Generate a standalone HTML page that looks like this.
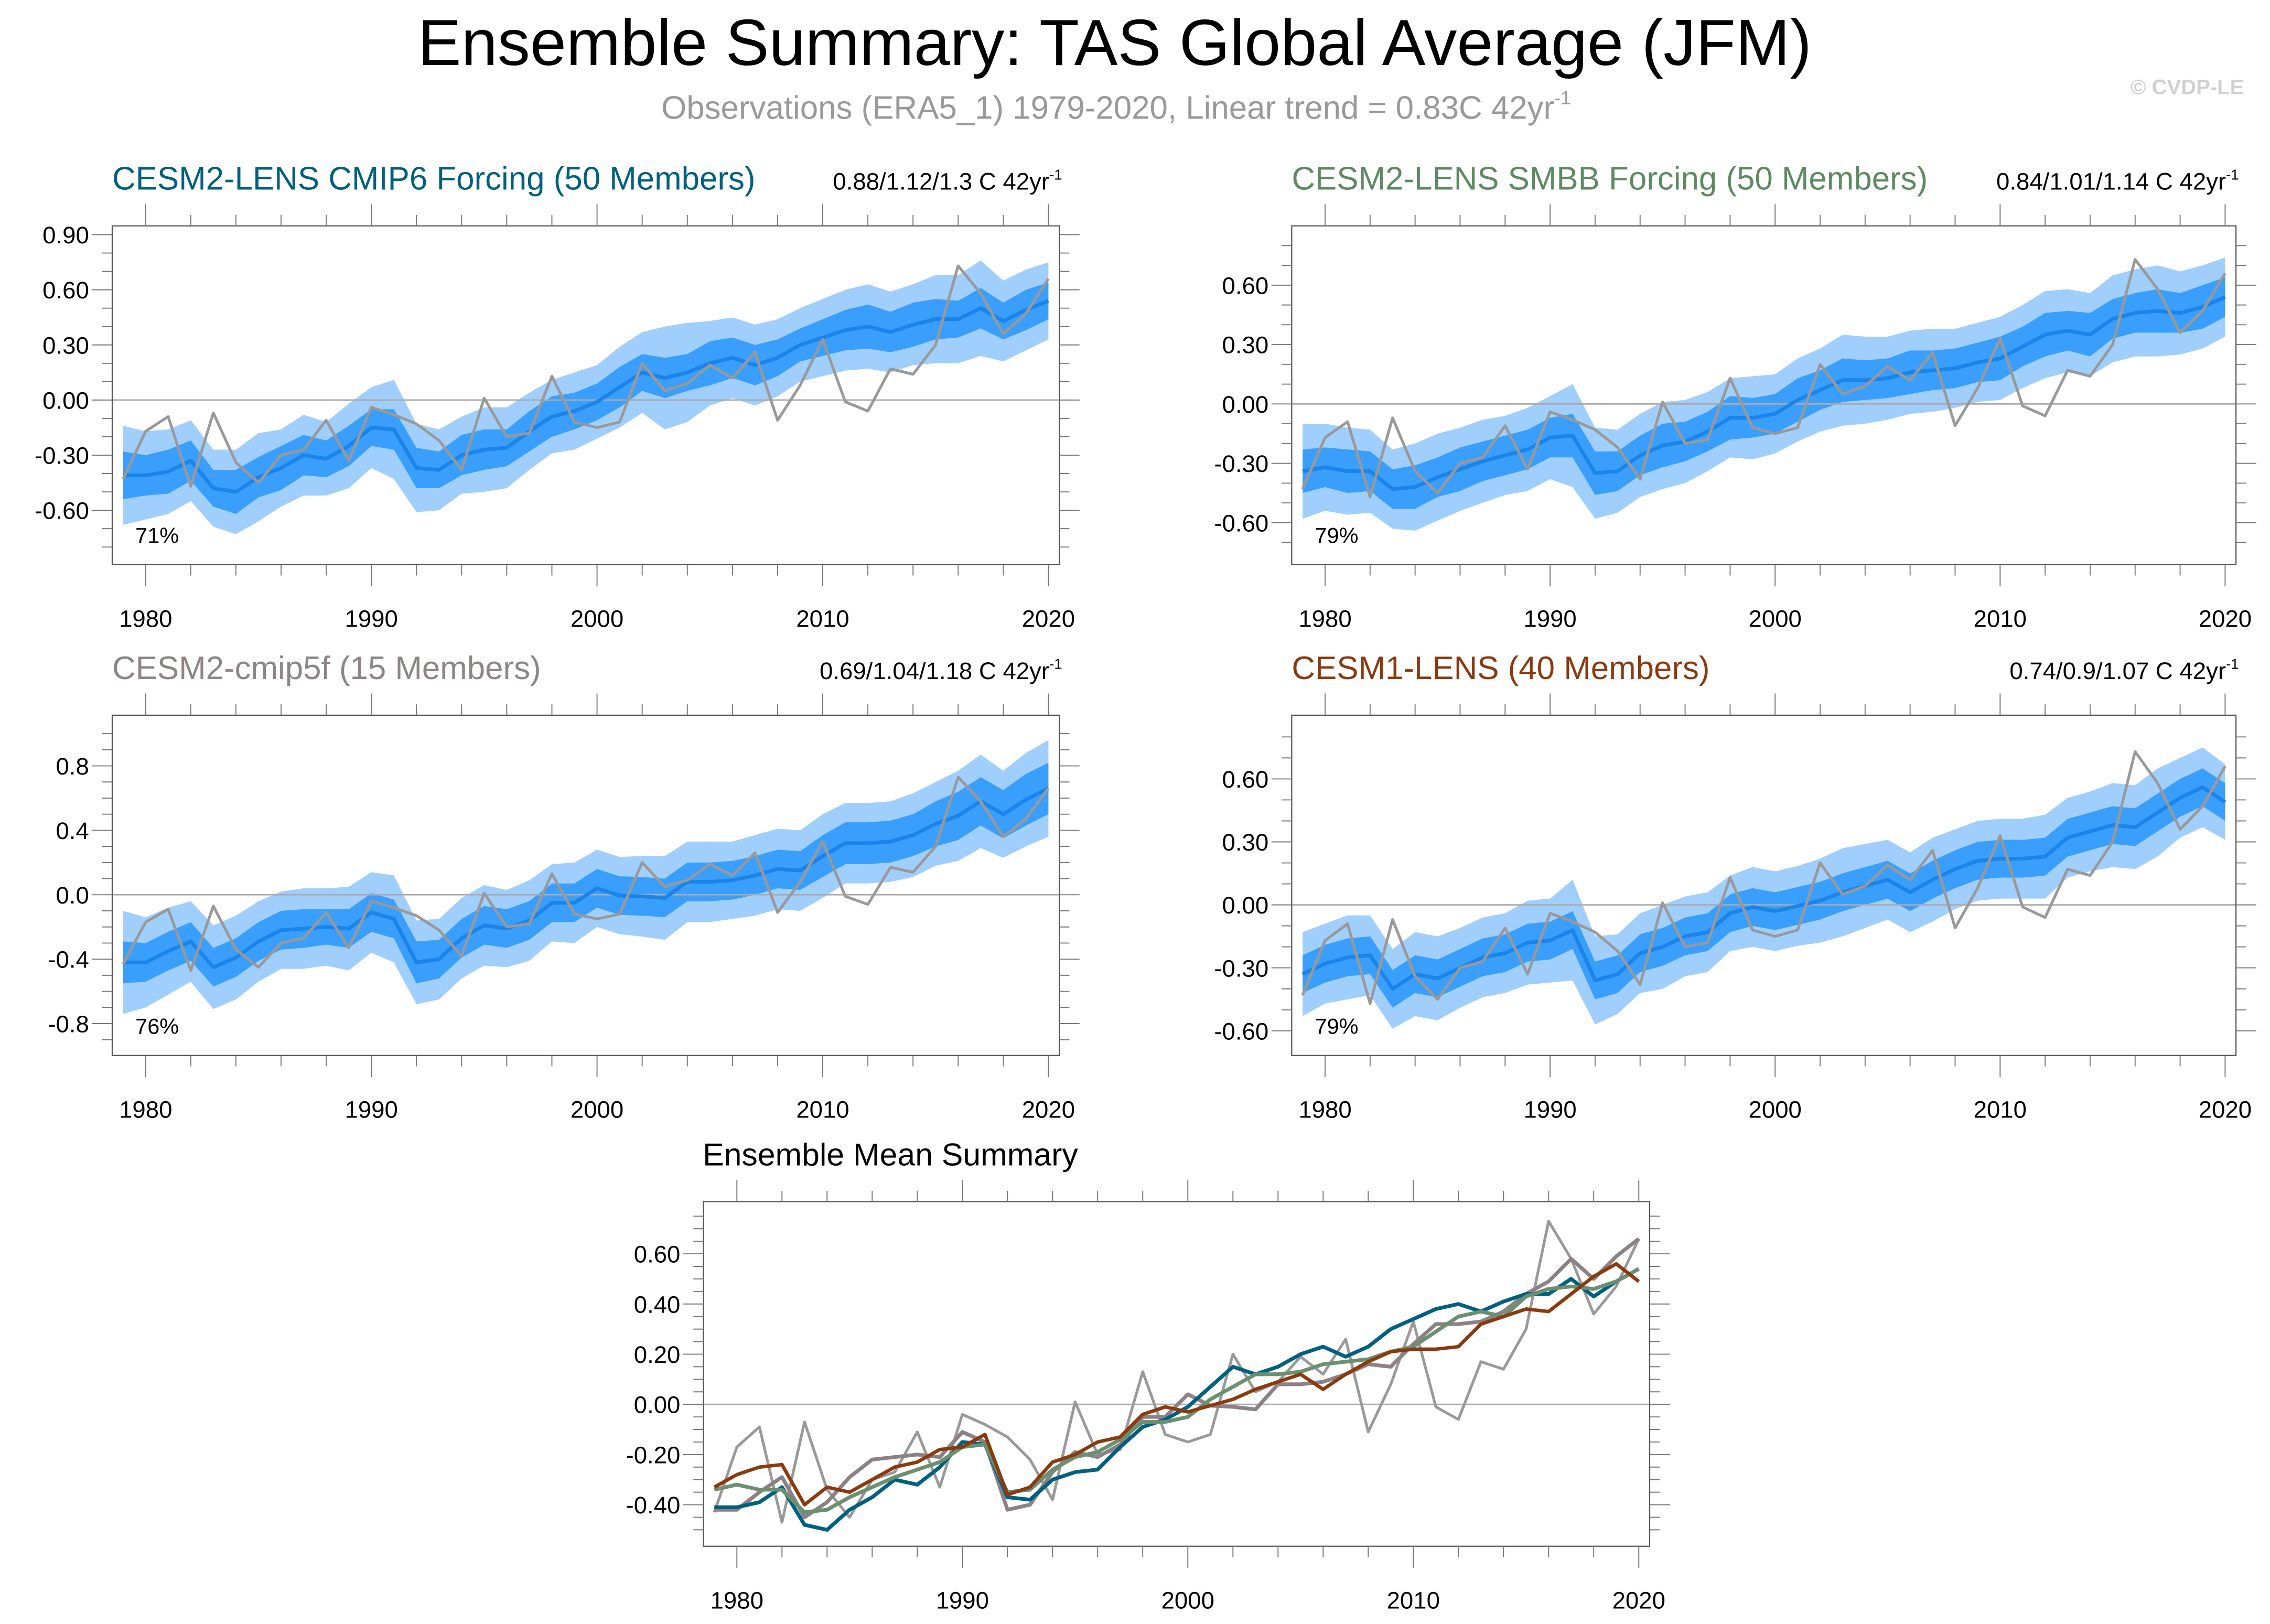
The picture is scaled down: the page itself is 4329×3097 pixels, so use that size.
<!DOCTYPE html>
<html><head><meta charset="utf-8">
<style>
html,body{margin:0;padding:0;background:#fff;}
svg{display:block;font-family:"Liberation Sans",sans-serif;}
</style></head>
<body>
<svg id="fig" width="4329" height="3097" viewBox="0 0 1568 1121.7" preserveAspectRatio="none" xmlns="http://www.w3.org/2000/svg">
<text x="770" y="45" font-size="45" text-anchor="middle" fill="#000">Ensemble Summary: TAS Global Average (JFM)</text>
<text x="771" y="82" font-size="22.4" text-anchor="middle" fill="#999">Observations (ERA5_1) 1979-2020, Linear trend = 0.83C 42yr<tspan font-size="13" dy="-10">-1</tspan></text>
<text x="1550" y="65" font-size="14.5" font-weight="bold" text-anchor="end" fill="#d0d0d0">© CVDP-LE</text>
<g id="plots"></g>
</svg>
<script>
const years = [];
for (let y = 1979; y <= 2020; y++) years.push(y);
const obs = [-0.43,-0.17,-0.09,-0.47,-0.07,-0.34,-0.45,-0.30,-0.27,-0.11,-0.33,-0.04,-0.08,-0.13,-0.22,-0.38,0.01,-0.20,-0.18,0.13,-0.12,-0.15,-0.12,0.20,0.05,0.09,0.19,0.12,0.26,-0.11,0.08,0.33,-0.01,-0.06,0.17,0.14,0.30,0.73,0.58,0.36,0.47,0.66];
const meanCmip6 = [-0.41,-0.41,-0.39,-0.33,-0.48,-0.50,-0.42,-0.37,-0.30,-0.32,-0.25,-0.15,-0.16,-0.37,-0.38,-0.30,-0.27,-0.26,-0.17,-0.09,-0.06,-0.01,0.07,0.15,0.12,0.15,0.20,0.23,0.19,0.23,0.30,0.34,0.38,0.40,0.37,0.41,0.44,0.44,0.50,0.43,0.49,0.54];
const meanSmbb = [-0.34,-0.32,-0.34,-0.34,-0.43,-0.42,-0.37,-0.33,-0.29,-0.26,-0.23,-0.17,-0.16,-0.35,-0.34,-0.26,-0.21,-0.19,-0.14,-0.07,-0.07,-0.05,0.02,0.07,0.12,0.12,0.13,0.16,0.17,0.18,0.21,0.23,0.29,0.35,0.37,0.35,0.43,0.46,0.47,0.46,0.49,0.54];
const meanCmip5f = [-0.42,-0.42,-0.35,-0.29,-0.45,-0.39,-0.29,-0.22,-0.21,-0.20,-0.21,-0.11,-0.15,-0.42,-0.40,-0.27,-0.19,-0.21,-0.16,-0.05,-0.05,0.04,-0.005,-0.01,-0.02,0.08,0.08,0.09,0.12,0.16,0.15,0.24,0.32,0.32,0.33,0.37,0.44,0.49,0.58,0.50,0.59,0.66];
const meanCesm1 = [-0.33,-0.28,-0.25,-0.24,-0.40,-0.33,-0.35,-0.30,-0.25,-0.23,-0.18,-0.17,-0.12,-0.36,-0.33,-0.23,-0.20,-0.15,-0.13,-0.04,-0.01,-0.03,-0.005,0.02,0.06,0.09,0.12,0.06,0.12,0.17,0.21,0.22,0.22,0.23,0.32,0.35,0.38,0.37,0.44,0.51,0.56,0.49];
const darkCmip6 = [0.13,0.11,0.12,0.11,0.10,0.12,0.11,0.12,0.11,0.10,0.11,0.10,0.11,0.11,0.10,0.11,0.11,0.10,0.11,0.11,0.10,0.10,0.11,0.10,0.11,0.10,0.12,0.11,0.11,0.10,0.09,0.10,0.11,0.12,0.11,0.12,0.11,0.10,0.11,0.10,0.11,0.10];
const lightCmip6 = [0.27,0.24,0.23,0.22,0.21,0.23,0.24,0.21,0.22,0.20,0.23,0.22,0.27,0.24,0.22,0.21,0.23,0.22,0.21,0.20,0.21,0.20,0.22,0.22,0.28,0.27,0.23,0.22,0.22,0.21,0.20,0.21,0.22,0.23,0.22,0.22,0.24,0.24,0.26,0.22,0.22,0.21];
const darkSmbb = [0.11,0.10,0.11,0.10,0.10,0.11,0.10,0.11,0.10,0.10,0.10,0.10,0.11,0.11,0.10,0.10,0.11,0.10,0.10,0.11,0.10,0.10,0.11,0.10,0.11,0.10,0.10,0.11,0.10,0.10,0.10,0.11,0.10,0.11,0.10,0.11,0.10,0.10,0.11,0.10,0.11,0.10];
const lightSmbb = [0.24,0.22,0.22,0.21,0.20,0.22,0.22,0.21,0.21,0.20,0.21,0.21,0.26,0.23,0.21,0.21,0.22,0.21,0.20,0.20,0.21,0.20,0.21,0.21,0.23,0.22,0.21,0.21,0.21,0.20,0.20,0.21,0.21,0.22,0.21,0.21,0.22,0.22,0.23,0.21,0.21,0.20];
const darkCmip5f = [0.13,0.12,0.12,0.12,0.12,0.12,0.12,0.12,0.12,0.11,0.12,0.12,0.12,0.13,0.12,0.12,0.12,0.12,0.12,0.12,0.12,0.12,0.12,0.12,0.12,0.12,0.12,0.12,0.12,0.12,0.12,0.13,0.13,0.13,0.13,0.13,0.14,0.15,0.15,0.15,0.16,0.16];
const lightCmip5f = [0.32,0.28,0.27,0.25,0.26,0.26,0.25,0.24,0.25,0.24,0.26,0.25,0.27,0.26,0.25,0.25,0.25,0.24,0.25,0.24,0.25,0.24,0.24,0.25,0.26,0.25,0.25,0.24,0.25,0.25,0.25,0.26,0.25,0.25,0.25,0.26,0.26,0.28,0.29,0.27,0.29,0.30];
const darkCesm1 = [0.09,0.09,0.09,0.09,0.09,0.09,0.09,0.09,0.09,0.09,0.09,0.09,0.09,0.09,0.09,0.09,0.09,0.09,0.09,0.09,0.09,0.09,0.09,0.09,0.09,0.09,0.09,0.09,0.09,0.09,0.09,0.09,0.09,0.09,0.09,0.09,0.09,0.09,0.09,0.09,0.09,0.09];
const lightCesm1 = [0.20,0.19,0.20,0.19,0.19,0.20,0.20,0.19,0.19,0.19,0.20,0.20,0.24,0.21,0.19,0.19,0.20,0.19,0.19,0.18,0.19,0.19,0.19,0.20,0.21,0.20,0.19,0.19,0.20,0.19,0.19,0.19,0.19,0.20,0.19,0.19,0.20,0.20,0.21,0.19,0.19,0.18];
const statsLabels = ["0.88/1.12/1.3 C 42yr", "0.84/1.01/1.14 C 42yr", "0.69/1.04/1.18 C 42yr", "0.74/0.9/1.07 C 42yr"];
const pctLabels = ["71%", "79%", "76%", "79%"];
const yearTicks = [1980, 1990, 2000, 2010, 2020];

const NS = "http://www.w3.org/2000/svg";
const root = document.getElementById("plots");
function mk(tag, attrs, parent) {
  const e = document.createElementNS(NS, tag);
  for (const k in attrs) e.setAttribute(k, attrs[k]);
  (parent || root).appendChild(e);
  return e;
}

function panel(cfg) {
  const g = mk("g", {});
  
  
  const xs = (yr) => cfg.x1980 + (yr - 1980) * (cfg.x2020 - cfg.x1980) / 40;
  const ys = (v) => cfg.y0 - v * cfg.pxPerUnit;
  const L = xs(1979) - 7.5, R = xs(2020) + 7.5, T = cfg.top, B = cfg.bottom;
  if (cfg.mean) {
    const bands = [[cfg.light, "#a0cffd", "light-spread-band"], [cfg.dark, "#3a9ffc", "dark-spread-band"]];
    for (const [sp, col, nm] of bands) {
      let pts = years.map((y, i) => xs(y) + "," + ys(cfg.mean[i] + sp[i]));
      pts = pts.concat(years.map((y, i) => xs(y) + "," + ys(cfg.mean[i] - sp[i])).reverse());
      const p = mk("polygon", {points: pts.join(" "), fill: col}, g);
      
      
    }
  }
  const zl = mk("line", {x1: L, x2: R, y1: ys(0), y2: ys(0), stroke: "#aaa", "stroke-width": 1}, g);
  
  
  for (const s of cfg.lines) {
    const pl = mk("polyline", {points: years.map((y, i) => xs(y) + "," + ys(s.data[i])).join(" "), fill: "none", stroke: s.color, "stroke-width": s.w, "stroke-linejoin": "round"}, g);
    
    
  }
  const box = mk("rect", {x: L, y: T, width: R - L, height: B - T, fill: "none", stroke: "#555", "stroke-width": 0.8}, g);
  
  
  for (let yr = 1980; yr <= 2020; yr += 2) {
    const major = yr % 10 === 0;
    const len = major ? 15 : 7.5;
    mk("line", {x1: xs(yr), x2: xs(yr), y1: T, y2: T - len, stroke: "#777", "stroke-width": 0.7}, g);
    mk("line", {x1: xs(yr), x2: xs(yr), y1: B, y2: B + len, stroke: "#777", "stroke-width": 0.7}, g);
  }
  for (const yr of yearTicks) {
    const t = mk("text", {x: xs(yr), y: cfg.bottom + 43, "font-size": 16.5, "text-anchor": "middle", fill: "#000"}, g);
    t.textContent = yr;
    
    
  }
  const vmin = (cfg.y0 - B + 3) / cfg.pxPerUnit, vmax = (cfg.y0 - T - 3) / cfg.pxPerUnit;
  const n0 = Math.ceil(vmin / cfg.minor - 1e-6), n1 = Math.floor(vmax / cfg.minor + 1e-6);
  for (let n = n0; n <= n1; n++) {
    const v = n * cfg.minor;
    const major = Math.abs(Math.round(v / cfg.major) * cfg.major - v) < 1e-6;
    const len = major ? 14 : 7;
    mk("line", {x1: L, x2: L - len, y1: ys(v), y2: ys(v), stroke: "#777", "stroke-width": 0.7}, g);
    mk("line", {x1: R, x2: R + len, y1: ys(v), y2: ys(v), stroke: "#777", "stroke-width": 0.7}, g);
    if (major) {
      const t = mk("text", {x: L - 16, y: ys(v) + 6, "font-size": 16.5, "text-anchor": "end", fill: "#000"}, g);
      t.textContent = Math.abs(v) < 1e-9 ? (0).toFixed(cfg.dec) : v.toFixed(cfg.dec);
      
      
    }
  }
  const tt = mk("text", {x: cfg.titleX !== undefined ? cfg.titleX : L, y: T - 25, "font-size": cfg.titleSize || 22.4, fill: cfg.titleColor, "text-anchor": cfg.titleAnchor || "start"}, g);
  tt.textContent = cfg.title;
  
  
  if (cfg.stats) {
    const st = mk("text", {x: R + 2, y: T - 25, "font-size": 16.5, fill: "#000", "text-anchor": "end"}, g);
    st.textContent = cfg.stats;
    const sup = mk("tspan", {"font-size": 10, dy: -7}, st);
    sup.textContent = "-1";
    
    
  }
  if (cfg.pct) {
    const pt = mk("text", {x: L + 16, y: B - 15, "font-size": 15, fill: "#000"}, g);
    pt.textContent = cfg.pct;
    
    
  }
}

const blueLine = "#1b84ea";
panel({name: "panel-cesm2-cmip6", x1980: 100.6, x2020: 724.2, y0: 276.3, pxPerUnit: 126.9, top: 156, bottom: 390, minor: 0.1, major: 0.3, dec: 2,
  mean: meanCmip6, dark: darkCmip6, light: lightCmip6, title: "CESM2-LENS CMIP6 Forcing (50 Members)", titleColor: "#00607f", stats: statsLabels[0], pct: pctLabels[0],
  lines: [{data: meanCmip6, color: blueLine, w: 2.6, name: "ensemble-mean-line"}, {data: obs, color: "#999", w: 1.9, name: "observations-line"}]});
panel({name: "panel-cesm2-smbb", x1980: 915.3, x2020: 1537, y0: 279, pxPerUnit: 136.7, top: 156, bottom: 390, minor: 0.1, major: 0.3, dec: 2,
  mean: meanSmbb, dark: darkSmbb, light: lightSmbb, title: "CESM2-LENS SMBB Forcing (50 Members)", titleColor: "#5e8a62", stats: statsLabels[1], pct: pctLabels[1],
  lines: [{data: meanSmbb, color: blueLine, w: 2.6, name: "ensemble-mean-line"}, {data: obs, color: "#999", w: 1.9, name: "observations-line"}]});
panel({name: "panel-cesm2-cmip5f", x1980: 100.6, x2020: 724.2, y0: 618, pxPerUnit: 111.25, top: 494, bottom: 729, minor: 0.1, major: 0.4, dec: 1,
  mean: meanCmip5f, dark: darkCmip5f, light: lightCmip5f, title: "CESM2-cmip5f (15 Members)", titleColor: "#8c8686", stats: statsLabels[2], pct: pctLabels[2],
  lines: [{data: meanCmip5f, color: blueLine, w: 2.6, name: "ensemble-mean-line"}, {data: obs, color: "#999", w: 1.9, name: "observations-line"}]});
panel({name: "panel-cesm1-lens", x1980: 915.3, x2020: 1537, y0: 625, pxPerUnit: 145, top: 494, bottom: 729, minor: 0.1, major: 0.3, dec: 2,
  mean: meanCesm1, dark: darkCesm1, light: lightCesm1, title: "CESM1-LENS (40 Members)", titleColor: "#8b3a0f", stats: statsLabels[3], pct: pctLabels[3],
  lines: [{data: meanCesm1, color: blueLine, w: 2.6, name: "ensemble-mean-line"}, {data: obs, color: "#999", w: 1.9, name: "observations-line"}]});
panel({name: "panel-ensemble-mean-summary", x1980: 509, x2020: 1132, y0: 970, pxPerUnit: 173.3, top: 830, bottom: 1068, minor: 0.05, major: 0.2, dec: 2,
  title: "Ensemble Mean Summary", titleColor: "#000", titleX: 615, titleAnchor: "middle", titleSize: 22,
  lines: [{data: obs, color: "#999", w: 1.9, name: "observations-line"},
          {data: meanCmip5f, color: "#8c8286", w: 2.6, name: "cmip5f-mean-line"},
          {data: meanCmip6, color: "#00607f", w: 2.6, name: "cmip6-mean-line"},
          {data: meanSmbb, color: "#6a9070", w: 2.6, name: "smbb-mean-line"},
          {data: meanCesm1, color: "#8b3a0f", w: 2.4, name: "cesm1-mean-line"}]});
</script>
</body></html>
